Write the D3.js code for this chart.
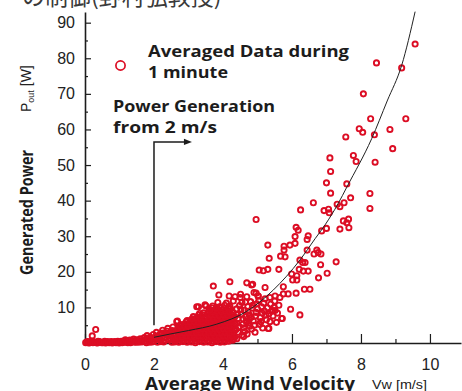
<!DOCTYPE html>
<html><head><meta charset="utf-8">
<script src="https://cdn.jsdelivr.net/npm/d3@7/dist/d3.min.js"></script>
<style>body{margin:0;background:#fff}svg{display:block}</style>
</head><body><svg id="c" width="462" height="391"></svg>
<script>
// ---------- data ----------
const headerText = "の制御(野村弘教授)";
const xTitle = "Average Wind Velocity";
const xUnit = "Vw [m/s]";
const yTitle = "Generated Power";
const legendLines = ["Averaged Data during", "1 minute"];
const noteLines = ["Power Generation", "from 2 m/s"];
const xMajorTicks = [0, 2, 4, 6, 8, 10];
const xTickLabels = ["0", "2", "4", "6", "8", "10"];
const xMinorTicks = [1, 3, 5, 7, 9];
const yMajorTicks = [10, 20, 30, 40, 50, 60, 70, 80, 90];
const yTickLabels = ["10", "20", "30", "40", "50", "60", "70", "80", "90"];
const yMinorTicks = [5, 15, 25, 35, 45, 55, 65, 75, 85];
const cutIn = {v: 2, pLow: 5, pTop: 56.5, vEnd: 3.1};

// fitted (cubic-like) curve: [Vw, Pout]
const fitCurve = [[2.0,1.6],[2.46,2.5],[3.0,3.5],[3.82,5.3],[4.69,8.9],[5.46,14.9],[6.23,23.3],[6.67,29.3],[6.96,33.2],[7.34,39.2],[7.59,43.8],[8.31,57.4],[8.76,68.0],[9.18,78.0],[9.57,93.1]];

// averaged data during 1 minute: [Vw, Pout]
const calmBand = [[0.02,0.1],[0.08,0.4],[0.14,0.1],[0.2,0.5],[0.26,0.2],[0.33,0.1],[0.38,0.5],[0.45,0.2],[0.52,0.1],[0.57,0.5],[0.63,0.2],[0.7,0.1],[0.76,0.4],[0.82,0.2],[0.9,0.1],[0.95,0.5],[1.02,0.3],[1.08,0.1],[1.14,0.6],[1.2,0.2],[1.27,0.4],[1.32,0.1],[1.38,0.7],[1.44,0.3],[1.5,0.9],[0.21,2.0],[0.31,3.8],
 [0.05,0.3],[0.11,0.0],[0.17,0.4],[0.23,0.1],[0.29,0.3],[0.36,0.0],[0.42,0.4],[0.48,0.1],[0.55,0.3],[0.6,0.0],[0.66,0.4],[0.73,0.2],[0.79,0.0],[0.86,0.4],[0.92,0.3],[0.99,0.0],[1.05,0.5],[1.11,0.2],[1.17,0.9],[1.24,0.1],[1.3,0.8],[1.35,0.3],[1.41,1.1],[1.47,0.2]];
const startBand = [[1.55,0.2],[1.6,1.2],[1.66,0.4],[1.72,1.5],[1.78,0.1],[1.8,2.1],[1.85,0.8],[1.9,1.6],[1.95,0.3],[1.98,2.4],[2.02,1.1],[2.07,3.0],[2.1,0.2],[2.13,1.9],[2.18,0.8],[2.22,2.7],[2.25,3.6],[2.28,0.3],[2.32,1.5],[2.36,2.3],[2.4,4.1],[2.43,0.9],[2.47,3.0],[2.5,1.8],[2.52,0.2],[2.55,4.5],
 [1.58,0.7],[1.63,0.3],[1.69,0.9],[1.75,0.5],[1.83,1.4],[1.88,0.2],[1.93,1.1],[2.0,0.6],[2.05,1.9],[2.12,1.3],[2.16,2.4],[2.2,0.4],[2.24,1.8],[2.3,2.9],[2.34,0.8],[2.38,3.3],[2.45,2.2],[2.49,1.1],[2.53,3.5],[2.56,2.6],[2.58,1.2]];
const lowMass = [[2.6,0.3],[2.72,0.2],[2.84,0.4],[2.96,0.2],[3.08,0.3],[3.2,0.1],[3.32,0.4],[3.44,0.2],
 [2.66,1.3],[2.78,1.1],[2.9,1.4],[3.02,1.2],[3.14,1.3],[3.26,1.1],[3.38,1.4],[3.5,1.2],
 [2.6,2.3],[2.72,2.5],[2.84,2.2],[2.96,2.4],[3.08,2.2],[3.2,2.5],[3.32,2.3],[3.44,2.4],
 [2.66,3.4],[2.78,3.2],[2.9,3.5],[3.02,3.3],[3.14,3.4],[3.26,3.2],[3.38,3.5],[3.5,3.3],
 [2.72,4.4],[2.84,4.2],[2.96,4.5],[3.08,4.3],[3.2,4.4],[3.32,4.2],[3.44,4.5],
 [2.78,5.2],[2.9,5.4],[3.02,5.5],[3.14,5.3],[3.26,5.4],[3.38,5.2],[3.5,5.5],
 [2.96,6.3],[3.08,6.5],[3.2,6.2],[3.32,6.4],[3.44,6.3],
 [3.14,7.4],[3.26,7.2],[3.38,7.5],[3.5,7.3],[3.32,8.3],[3.44,8.5],
 [2.63,0.8],[2.75,0.7],[2.87,0.9],[2.99,0.7],[3.11,0.8],[3.23,0.6],[3.35,0.9],[3.47,0.7],
 [2.69,1.8],[2.81,1.7],[2.93,1.9],[3.05,1.8],[3.17,1.7],[3.29,1.9],[3.41,1.8],
 [2.63,2.8],[2.75,2.9],[2.87,2.7],[2.99,2.9],[3.11,2.8],[3.23,2.7],[3.35,2.9],[3.47,2.8],
 [2.69,3.9],[2.81,3.7],[2.93,3.9],[3.05,3.8],[3.17,3.9],[3.29,3.7],[3.41,3.9],
 [2.75,4.8],[2.87,4.9],[2.99,4.7],[3.11,4.8],[3.23,4.9],[3.35,4.7],[3.47,4.8],
 [2.93,5.9],[3.05,5.8],[3.17,5.9],[3.29,5.7],[3.41,5.9],
 [3.11,6.8],[3.23,6.9],[3.35,6.7],[3.47,6.9],[3.29,7.8],[3.41,7.9]];
const midMass = [[3.56,0.3],[3.68,0.1],[3.8,0.4],[3.92,0.2],[4.04,0.3],[4.16,0.5],[4.28,0.8],
 [3.62,1.3],[3.74,1.1],[3.86,1.4],[3.98,1.2],[4.1,1.5],[4.22,1.3],[4.34,1.6],
 [3.56,2.4],[3.68,2.2],[3.8,2.5],[3.92,2.3],[4.04,2.4],[4.16,2.2],[4.28,2.6],
 [3.62,3.3],[3.74,3.5],[3.86,3.2],[3.98,3.4],[4.1,3.3],[4.22,3.5],[4.34,3.6],
 [3.56,4.4],[3.68,4.2],[3.8,4.5],[3.92,4.3],[4.04,4.4],[4.16,4.2],[4.28,4.5],
 [3.62,5.3],[3.74,5.5],[3.86,5.2],[3.98,5.4],[4.1,5.3],[4.22,5.5],[4.34,5.4],
 [3.56,6.4],[3.68,6.2],[3.8,6.5],[3.92,6.3],[4.04,6.4],[4.16,6.2],[4.28,6.5],
 [3.62,7.3],[3.74,7.5],[3.86,7.2],[3.98,7.4],[4.1,7.3],[4.22,7.5],[4.34,7.4],
 [3.56,8.4],[3.68,8.2],[3.8,8.5],[3.92,8.3],[4.04,8.4],[4.16,8.2],[4.28,8.5],
 [3.62,9.4],[3.74,9.2],[3.86,9.5],[3.98,9.3],[4.1,9.4],[4.22,9.6],
 [3.7,10.4],[3.9,10.2],[4.05,10.6],[4.2,10.3],[3.85,11.4],[4.1,11.2],[4.3,11.8],
 [3.59,0.8],[3.71,0.6],[3.83,0.9],[3.95,0.7],[4.07,0.8],[4.19,1.0],[4.31,1.2],
 [3.65,1.8],[3.77,1.9],[3.89,1.7],[4.01,1.9],[4.13,1.8],[4.25,2.0],
 [3.59,2.9],[3.71,2.7],[3.83,2.9],[3.95,2.8],[4.07,2.9],[4.19,2.7],[4.31,3.0],
 [3.65,3.8],[3.77,3.9],[3.89,3.7],[4.01,3.9],[4.13,3.8],[4.25,4.0],
 [3.59,4.9],[3.71,4.7],[3.83,4.9],[3.95,4.8],[4.07,4.9],[4.19,4.7],[4.31,5.0],
 [3.65,5.8],[3.77,5.9],[3.89,5.7],[4.01,5.9],[4.13,5.8],[4.25,6.0],
 [3.59,6.9],[3.71,6.7],[3.83,6.9],[3.95,6.8],[4.07,6.9],[4.19,6.7],[4.31,7.0],
 [3.65,7.8],[3.77,7.9],[3.89,7.7],[4.01,7.9],[4.13,7.8],[4.25,8.0],
 [3.59,8.9],[3.71,8.7],[3.83,8.9],[3.95,8.8],[4.07,8.9],[4.19,8.7],
 [3.68,9.9],[3.8,9.8],[3.95,9.9],[4.15,10.0]];
const spreadMass = [[4.4,1.2],[4.45,3.0],[4.4,5.5],[4.42,8.0],[4.48,10.5],[4.5,12.8],[4.55,2.2],[4.58,6.8],[4.6,4.3],[4.62,9.2],[4.65,11.5],[4.69,13.0],[4.7,2.5],[4.74,5.6],[4.76,7.9],[4.8,11.6],[4.83,3.9],[4.85,9.8],[4.88,6.2],[4.9,14.2],[4.93,3.0],[4.96,8.6],[4.98,11.0],[5.02,13.2],[5.05,5.3],[5.08,7.1],[5.12,10.2],[5.15,4.2],[5.2,9.0],[5.22,12.4],[5.26,6.5],[5.31,4.1],[5.33,8.2],[5.38,10.9],[5.45,7.6],[5.5,11.8],[5.55,5.8],
 [4.38,3.8],[4.44,6.9],[4.52,9.4],[4.57,5.2],[4.66,7.4],[4.72,10.2],[4.4,9.6],[4.55,11.4],[4.6,1.8],
 [4.47,4.6],[4.53,8.1],[4.63,3.2],[4.67,6.1],[4.73,8.9],[4.78,4.7],[4.82,7.2],[4.86,10.6],[4.91,5.0],[4.94,7.6],[5.0,9.6],[5.04,11.9],[5.1,6.0],[5.14,8.4],[5.18,11.2],[5.24,7.9],[5.29,9.9],[5.36,6.0],[5.41,8.9],[5.48,10.0],[5.58,8.4],[5.62,10.6],
 [3.72,16.0],[4.20,17.2],[3.88,13.5],[4.69,16.9],[4.83,16.3],[4.18,13.2],[4.35,13.0],[4.51,13.7],[4.96,14.0],[5.02,13.2],[4.80,11.6],[3.48,10.7],[3.24,10.2],[3.62,9.3],[5.70,6.9],[2.66,6.0],[4.76,6.5],[3.29,10.2],[3.51,10.4],[2.68,6.2]];
const highPoints = [[9.57,84.0],[8.45,78.7],[9.18,77.3],[8.07,70.0],[8.28,63.0],[9.30,63.0],[7.95,60.2],[8.05,59.2],[8.39,58.5],[8.84,60.0],[7.56,57.9],[8.92,54.6],[7.10,52.0],[7.78,52.7],[7.86,51.0],[8.41,50.8],[7.12,48.2],[7.00,45.0],[7.59,44.7],[7.12,42.1],[8.26,42.0],[7.70,40.8],[8.26,37.8],[6.62,39.4],[7.31,39.0],[7.51,39.4],[6.25,37.4],[6.93,37.2],[7.06,37.6],[7.08,36.6],[7.39,38.3],[4.96,34.7],[7.49,34.3],[7.59,33.8],[7.64,34.8],[7.65,32.4],[7.39,32.0],[7.00,32.2],[6.86,31.5],[6.12,32.5],[6.18,31.7],[6.47,30.1],[6.44,29.1],[6.09,29.9],[6.09,28.0],[5.94,27.5],[5.77,27.2],[5.77,26.1],[5.30,27.5],[5.34,23.8],[5.67,24.4],[5.80,24.2],[6.23,23.3],[6.44,26.1],[6.72,26.1],[6.76,25.4],[6.64,25.0],[6.84,25.0],[6.31,22.6],[6.38,22.6],[6.47,20.2],[6.33,20.2],[6.21,20.7],[7.28,22.8],[6.83,22.0],[7.02,19.6],[6.77,18.3],[5.05,20.5],[5.17,20.3],[5.30,20.7],[5.62,20.7],[4.86,16.5],[5.22,15.6],[5.75,15.8],[6.02,17.7],[6.14,17.7],[5.99,19.4],[6.14,18.9],[6.12,14.0],[6.36,15.1],[6.52,15.1],[5.89,13.8],[5.75,13.8],[5.36,12.8],[5.51,13.2],[5.65,12.8],[5.44,9.1],[5.51,9.1],[5.96,9.5],[6.23,7.9],[5.72,6.9],[5.33,4.1],[5.07,5.3]];

// ---------- drawing ----------
const svg = d3.select("#c");
const red = "#dc0d24";
const ink = "#1c1c1c";
const x = d3.scaleLinear().domain([0, 10.9]).range([85, 461]);
const y = d3.scaleLinear().domain([0, 93]).range([343, 12]);

// header (cut off at top)
svg.append("text").attr("x", 22).attr("y", 5)
  .attr("font-family", "'Noto Sans CJK JP'").attr("font-size", 23).attr("fill", "#3a3a3a")
  .text(headerText);

// axes
svg.append("g").attr("transform", `translate(0,${y(0)})`)
  .call(d3.axisBottom(x).tickValues(xMajorTicks).tickSize(-9).tickSizeOuter(0).tickPadding(16)
    .tickFormat((d, i) => xTickLabels[i]));
svg.append("g").attr("transform", `translate(0,${y(0)})`)
  .call(d3.axisBottom(x).tickValues(xMinorTicks).tickSize(-4).tickSizeOuter(0).tickFormat(""))
  .select(".domain").remove();
svg.append("g").attr("transform", `translate(${x(0)},0)`)
  .call(d3.axisLeft(y).tickValues(yMajorTicks).tickSize(-6).tickSizeOuter(0).tickPadding(10)
    .tickFormat((d, i) => yTickLabels[i]));
svg.append("g").attr("transform", `translate(${x(0)},0)`)
  .call(d3.axisLeft(y).tickValues(yMinorTicks).tickSize(-3).tickSizeOuter(0).tickFormat(""))
  .select(".domain").remove();
svg.selectAll(".domain").attr("stroke", ink).attr("stroke-width", 1.6);
svg.selectAll(".tick line").attr("stroke", ink).attr("stroke-width", 1.2);
svg.selectAll(".tick text").attr("font-family", "'Liberation Sans', Arial, sans-serif")
  .attr("font-size", 16).attr("fill", "#222");

// points
const allPoints = [].concat(calmBand, startBand, lowMass, midMass, spreadMass, highPoints);
svg.append("g").selectAll("circle").data(allPoints).join("circle")
  .attr("cx", d => x(d[0])).attr("cy", d => y(d[1])).attr("r", 2.6)
  .attr("fill", "none").attr("stroke", red).attr("stroke-width", 1.9);

// fitted curve
svg.append("path").datum(fitCurve)
  .attr("d", d3.line().x(d => x(d[0])).y(d => y(d[1])).curve(d3.curveMonotoneX))
  .attr("fill", "none").attr("stroke", "#222").attr("stroke-width", 1);

// cut-in arrow
svg.append("path")
  .attr("d", `M${x(cutIn.v)},${y(cutIn.pLow)}V${y(cutIn.pTop)}H${x(cutIn.vEnd) - 6}`)
  .attr("fill", "none").attr("stroke", ink).attr("stroke-width", 1.5);
svg.append("path")
  .attr("d", `M${x(cutIn.vEnd)},${y(cutIn.pTop)}l-8,-3.2v6.4z`).attr("fill", ink);

// legend
svg.append("circle").attr("cx", 120.5).attr("cy", 65.5).attr("r", 4.6)
  .attr("fill", "none").attr("stroke", red).attr("stroke-width", 1.7);
const boldFont = "'Open Sans', 'Noto Sans', sans-serif";
[[legendLines[0], 148, 57, 201], [legendLines[1], 148, 78, 80],
 [noteLines[0], 113, 112, 162], [noteLines[1], 113, 133, 104]].forEach(([t, tx, ty, len]) => {
  svg.append("text").attr("x", tx).attr("y", ty).attr("font-family", boldFont)
    .attr("font-weight", 700).attr("font-size", 16).attr("fill", ink)
    .attr("textLength", len).attr("lengthAdjust", "spacingAndGlyphs").text(t);
});

// axis titles
svg.append("text").attr("x", 145).attr("y", 390).attr("font-family", boldFont)
  .attr("font-weight", 700).attr("font-size", 17).attr("fill", ink)
  .attr("textLength", 210).attr("lengthAdjust", "spacingAndGlyphs").text(xTitle);
svg.append("text").attr("x", 372).attr("y", 388.5).attr("font-family", "'Liberation Sans', Arial, sans-serif")
  .attr("font-size", 13).attr("fill", "#222")
  .attr("textLength", 55).attr("lengthAdjust", "spacingAndGlyphs").text(xUnit);

svg.append("text").attr("transform", "translate(33,275) rotate(-90)")
  .attr("font-family", boldFont).attr("font-weight", 700).attr("font-size", 17).attr("fill", ink)
  .attr("textLength", 125).attr("lengthAdjust", "spacingAndGlyphs").text(yTitle);
const pu = svg.append("text").attr("transform", "translate(31,112) rotate(-90)")
  .attr("font-family", "'Liberation Sans', Arial, sans-serif").attr("font-size", 14).attr("fill", "#222");
pu.append("tspan").text("P");
pu.append("tspan").attr("font-size", 9).attr("dy", 3).text("out");
pu.append("tspan").attr("dy", -3).text(" [W]");
</script></body></html>
